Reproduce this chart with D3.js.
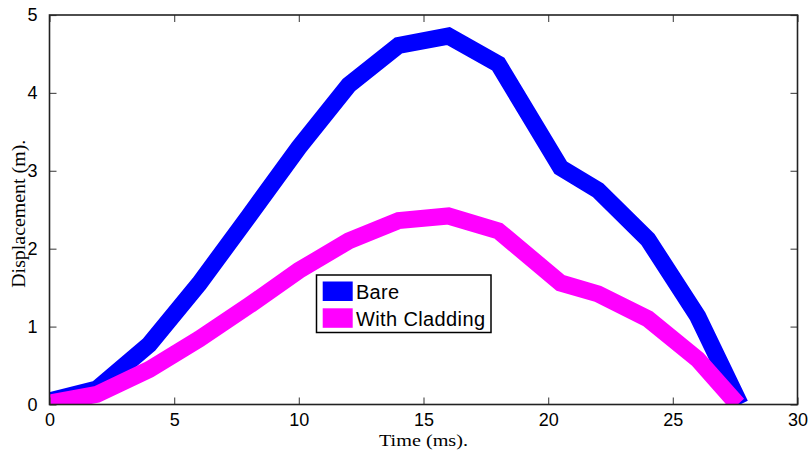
<!DOCTYPE html>
<html>
<head>
<meta charset="utf-8">
<script src="https://cdnjs.cloudflare.com/ajax/libs/d3/7.8.5/d3.min.js"></script>
<style>
  html, body { margin: 0; padding: 0; background: #fff; }
  svg { display: block; }
</style>
</head>
<body>
<svg id="chart" width="810" height="453"></svg>
<script>
// Displacement histories (time in ms, displacement in m)
const bareTime = [0, 1.9, 4, 6, 8, 10, 12, 14, 16, 18, 20.5, 22, 24, 26, 27.7];
const bareDisp = [0.045, 0.2, 0.77, 1.55, 2.42, 3.3, 4.1, 4.61, 4.73, 4.37, 3.04, 2.75, 2.12, 1.13, 0];
const cladTime = [0, 1.9, 4, 6, 8, 10, 12, 14, 16, 18, 20.5, 22, 24, 26, 27.6];
const cladDisp = [0.02, 0.13, 0.45, 0.84, 1.27, 1.72, 2.1, 2.36, 2.42, 2.23, 1.56, 1.42, 1.1, 0.58, 0];

const seriesNames = ["Bare", "With Cladding"];
const seriesColors = ["#0000ff", "#ff00ff"];
const xTicks = [0, 5, 10, 15, 20, 25, 30];
const yTicks = [0, 1, 2, 3, 4, 5];
const xLabel = "Time (ms).";
const yLabel = "Displacement (m).";

const svg = d3.select("#chart");
const plotLeft = 49.5, plotRight = 797.5, plotTop = 15, plotBottom = 404.5;

const x = d3.scaleLinear().domain([0, 30]).range([plotLeft, plotRight]);
const y = d3.scaleLinear().domain([0, 5]).range([plotBottom, plotTop]);

svg.append("defs").append("clipPath").attr("id", "plotClip")
  .append("rect")
  .attr("x", plotLeft).attr("y", plotTop)
  .attr("width", plotRight - plotLeft).attr("height", plotBottom - plotTop);

const series = [
  { name: seriesNames[0], color: seriesColors[0], pts: bareTime.map((t, i) => [t, bareDisp[i]]) },
  { name: seriesNames[1], color: seriesColors[1], pts: cladTime.map((t, i) => [t, cladDisp[i]]) }
];

const line = d3.line().x(d => x(d[0])).y(d => y(d[1]));

const plot = svg.append("g").attr("clip-path", "url(#plotClip)");
series.forEach(s => {
  plot.append("path")
    .datum(s.pts)
    .attr("d", line)
    .attr("fill", "none")
    .attr("stroke", s.color)
    .attr("stroke-width", 17)
    .attr("stroke-linejoin", "miter")
    .attr("stroke-linecap", "butt");
});

// Axes with inward ticks, mirrored on top and right
const tickLen = 7;
const axisFont = "'Liberation Sans', Arial, sans-serif";

const xAxis = svg.append("g").attr("transform", `translate(0,${plotBottom})`)
  .call(d3.axisBottom(x).tickValues(xTicks).tickSize(-tickLen).tickPadding(tickLen + 2).tickFormat(d3.format("d")));
const xAxisTop = svg.append("g").attr("transform", `translate(0,${plotTop})`)
  .call(d3.axisTop(x).tickValues(xTicks).tickSize(-tickLen).tickFormat(""));
const yAxis = svg.append("g").attr("transform", `translate(${plotLeft},0)`)
  .call(d3.axisLeft(y).tickValues(yTicks).tickSize(-tickLen).tickPadding(tickLen + 5).tickFormat(d3.format("d")));
const yAxisRight = svg.append("g").attr("transform", `translate(${plotRight},0)`)
  .call(d3.axisRight(y).tickValues(yTicks).tickSize(-tickLen).tickFormat(""));

[xAxis, xAxisTop, yAxis, yAxisRight].forEach(g => {
  g.select(".domain").remove();
  g.selectAll(".tick line").attr("stroke", "#555").attr("stroke-width", 1.2);
  g.selectAll(".tick text")
    .attr("fill", "#000")
    .style("font-family", axisFont)
    .style("font-size", "18px");
});

// Axes box
svg.append("rect")
  .attr("x", plotLeft).attr("y", plotTop)
  .attr("width", plotRight - plotLeft).attr("height", plotBottom - plotTop)
  .attr("fill", "none")
  .attr("stroke", "#222")
  .attr("stroke-width", 1.6);

// Axis titles
svg.append("text")
  .attr("x", (plotLeft + plotRight) / 2).attr("y", 446)
  .attr("text-anchor", "middle")
  .attr("textLength", 89).attr("lengthAdjust", "spacingAndGlyphs")
  .style("font-family", "'Liberation Serif', 'Times New Roman', serif")
  .style("font-size", "17px")
  .text(xLabel);

svg.append("text")
  .attr("transform", `translate(25,${(plotTop + plotBottom) / 2 + 4}) rotate(-90)`)
  .attr("text-anchor", "middle")
  .attr("textLength", 148).attr("lengthAdjust", "spacingAndGlyphs")
  .style("font-family", "'Liberation Serif', 'Times New Roman', serif")
  .style("font-size", "18px")
  .text(yLabel);

// Legend
const lg = svg.append("g");
lg.append("rect")
  .attr("x", 316.5).attr("y", 275)
  .attr("width", 174.5).attr("height", 57.5)
  .attr("fill", "#fff")
  .attr("stroke", "#000")
  .attr("stroke-width", 1.5);
series.forEach((s, i) => {
  const yy = 281.5 + i * 26.8;
  lg.append("rect")
    .attr("x", 322.7).attr("y", yy)
    .attr("width", 30).attr("height", 19.5)
    .attr("fill", s.color);
  lg.append("text")
    .attr("x", 356).attr("y", yy + 17.5)
    .attr("textLength", i === 0 ? 43 : 129).attr("lengthAdjust", "spacing")
    .style("font-family", axisFont)
    .style("font-size", "20px")
    .attr("fill", "#000")
    .text(s.name);
});
</script>
</body>
</html>
